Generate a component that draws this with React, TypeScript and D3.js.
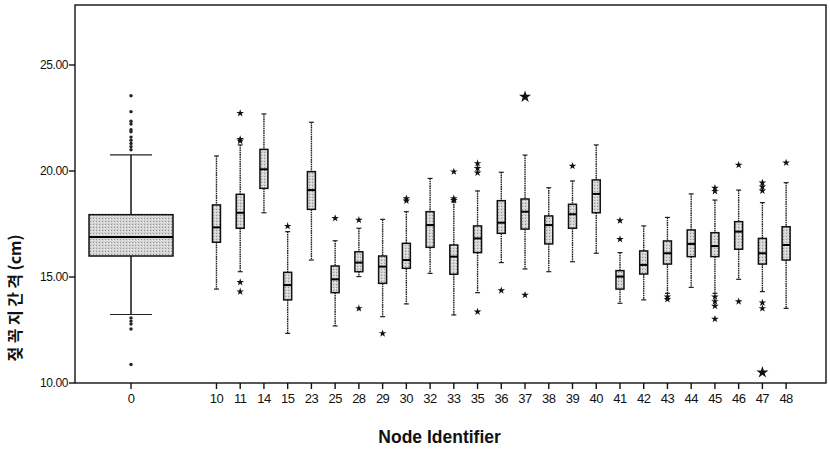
import React, { useEffect, useRef } from 'react';
import * as d3 from 'd3';

// node ids on the x axis
const nodes = ['0', '10', '11', '14', '15', '23', '25', '28', '29', '30', '32', '33', '35', '36', '37', '38', '39', '40', '41', '42', '43', '44', '45', '46', '47', '48'];

// box statistics per node (cm)
const whiskerHigh = [20.76, 20.71, 21.23, 22.69, 17.14, 22.3, 16.71, 17.3, 17.72, 18.08, 19.65, 18.55, 19.06, 19.94, 20.75, 19.21, 19.53, 21.23, 16.15, 17.41, 17.81, 18.92, 18.63, 19.1, 18.51, 19.45];
const q3 = [17.94, 18.4, 18.9, 21.02, 15.22, 19.97, 15.52, 16.19, 15.99, 16.59, 18.08, 16.51, 17.41, 18.6, 18.68, 17.88, 18.43, 19.58, 15.3, 16.23, 16.7, 17.22, 17.09, 17.61, 16.82, 17.37];
const median = [16.89, 17.34, 18.03, 20.08, 14.62, 19.1, 14.89, 15.68, 15.49, 15.8, 17.45, 15.96, 16.82, 17.56, 18.08, 17.45, 17.96, 18.92, 15.02, 15.57, 16.12, 16.56, 16.46, 17.14, 16.12, 16.51];
const q1 = [15.99, 16.64, 17.3, 19.18, 13.92, 18.19, 14.26, 15.25, 14.7, 15.41, 16.4, 15.13, 16.15, 17.06, 17.26, 16.56, 17.3, 18.03, 14.43, 15.14, 15.61, 15.96, 15.96, 16.31, 15.61, 15.8];
const whiskerLow = [13.23, 14.43, 15.25, 18.03, 12.34, 15.8, 12.69, 15.02, 13.13, 13.73, 15.17, 13.21, 14.26, 15.68, 15.38, 15.25, 15.72, 16.12, 13.76, 13.92, 14.23, 14.51, 14.23, 14.89, 14.31, 13.52];

// outliers (node 0 drawn as dots, the rest as stars)
const outliers = [
  [23.55, 22.8, 22.35, 22.22, 21.95, 21.85, 21.6, 21.45, 21.3, 21.15, 21.0, 13.07, 12.92, 12.78, 12.55, 10.87],
  [],
  [22.72, 21.5, 21.42, 14.75, 14.31],
  [],
  [17.4],
  [],
  [17.77],
  [17.69, 13.52],
  [12.34],
  [18.7, 18.6],
  [],
  [19.97, 18.7, 18.62],
  [20.36, 20.13, 19.92, 13.36],
  [14.36],
  [14.15],
  [],
  [20.24],
  [],
  [17.66, 16.78],
  [],
  [14.07, 13.95],
  [],
  [19.2, 19.05, 14.07, 13.85, 13.63, 13.02],
  [20.28, 13.84],
  [19.45, 19.26, 19.07, 13.79, 13.52],
  [20.39],
];
// the two far extremes, drawn larger
const bigStarNodes = ['37', '47'];
const bigStarValues = [23.5, 10.5];

const yTicks = [10, 15, 20, 25];

const W = 830;
const H = 452;
const margin = { top: 5, right: 4, bottom: 69, left: 75 };

function App() {
  const ref = useRef<SVGSVGElement>(null);

  useEffect(() => {
    const svg = d3.select(ref.current);
    svg.selectAll('*').remove();

    const iw = W - margin.left - margin.right;
    const ih = H - margin.top - margin.bottom;

    // node 0 sits in its own wide slot left of the others
    const slot = (i: number) => (i === 0 ? -3.6 : i - 1);
    const x = d3.scaleLinear().domain([-5.96, 25.68]).range([0, iw]);
    const y = d3.scaleLinear().domain([10, 27.83]).range([ih, 0]);

    const defs = svg.append('defs');
    const pat = defs.append('pattern')
      .attr('id', 'stip')
      .attr('patternUnits', 'userSpaceOnUse')
      .attr('width', 3)
      .attr('height', 3);
    pat.append('rect').attr('width', 3).attr('height', 3).attr('fill', '#d3d3d3');
    pat.append('rect').attr('x', 0).attr('y', 0).attr('width', 1).attr('height', 1).attr('fill', '#949494');
    pat.append('rect').attr('x', 2).attr('y', 1).attr('width', 1).attr('height', 1).attr('fill', '#f2f2f2');

    const g = svg.append('g').attr('transform', `translate(${margin.left},${margin.top})`);

    // frame
    g.append('rect')
      .attr('width', iw)
      .attr('height', ih)
      .attr('fill', 'none')
      .attr('stroke', '#111')
      .attr('stroke-width', 1.4);

    // y axis ticks
    yTicks.forEach(t => {
      g.append('line')
        .attr('x1', -6).attr('x2', 0)
        .attr('y1', y(t)).attr('y2', y(t))
        .attr('stroke', '#111').attr('stroke-width', 1.4);
      g.append('text')
        .attr('x', -7)
        .attr('y', y(t) + 4)
        .attr('text-anchor', 'end')
        .style('font-family', 'Liberation Sans, Arial, sans-serif')
        .style('font-size', '12px')
        .style('letter-spacing', '-0.4px')
        .attr('fill', '#111')
        .text(t.toFixed(2));
    });

    // x axis ticks
    nodes.forEach((n, i) => {
      const cx = x(slot(i));
      g.append('line')
        .attr('x1', cx).attr('x2', cx)
        .attr('y1', ih).attr('y2', ih + 6)
        .attr('stroke', '#111').attr('stroke-width', 1.4);
      g.append('text')
        .attr('x', cx)
        .attr('y', ih + 20)
        .attr('text-anchor', 'middle')
        .style('font-family', 'Liberation Sans, Arial, sans-serif')
        .style('font-size', '13px')
        .style('letter-spacing', '-0.5px')
        .attr('fill', '#111')
        .text(n);
    });

    // boxes
    nodes.forEach((n, i) => {
      const cx = x(slot(i));
      const wide = i === 0;
      const bw = wide ? 84 : 8;
      const cw = wide ? 42 : 5;
      const box = g.append('g');

      box.append('line')
        .attr('x1', cx).attr('x2', cx)
        .attr('y1', y(whiskerHigh[i])).attr('y2', y(q3[i]))
        .attr('stroke', '#222').attr('stroke-width', wide ? 1.6 : 1.4)
        .attr('stroke-dasharray', wide ? null : '1.6,0.7');
      box.append('line')
        .attr('x1', cx).attr('x2', cx)
        .attr('y1', y(q1[i])).attr('y2', y(whiskerLow[i]))
        .attr('stroke', '#222').attr('stroke-width', wide ? 1.6 : 1.4)
        .attr('stroke-dasharray', wide ? null : '1.6,0.7');
      [whiskerHigh[i], whiskerLow[i]].forEach(v => {
        box.append('line')
          .attr('x1', cx - cw / 2).attr('x2', cx + cw / 2)
          .attr('y1', y(v)).attr('y2', y(v))
          .attr('stroke', '#222').attr('stroke-width', 1.2);
      });
      box.append('rect')
        .attr('x', cx - bw / 2)
        .attr('y', y(q3[i]))
        .attr('width', bw)
        .attr('height', y(q1[i]) - y(q3[i]))
        .attr('fill', 'url(#stip)')
        .attr('stroke', '#111')
        .attr('stroke-width', 1.5);
      box.append('line')
        .attr('x1', cx - bw / 2).attr('x2', cx + bw / 2)
        .attr('y1', y(median[i])).attr('y2', y(median[i]))
        .attr('stroke', '#000').attr('stroke-width', 2);

      outliers[i].forEach(v => {
        if (wide) {
          box.append('circle')
            .attr('cx', cx).attr('cy', y(v)).attr('r', 1.7)
            .attr('fill', '#222');
        } else {
          box.append('path')
            .attr('d', d3.symbol(d3.symbolStar, 18)())
            .attr('transform', `translate(${cx},${y(v)})`)
            .attr('fill', '#111');
        }
      });
    });

    bigStarNodes.forEach((n, k) => {
      const cx = x(slot(nodes.indexOf(n)));
      g.append('path')
        .attr('d', d3.symbol(d3.symbolStar, 45)())
        .attr('transform', `translate(${cx},${y(bigStarValues[k])})`)
        .attr('fill', '#111');
    });

    // axis titles
    svg.append('text')
      .attr('x', margin.left + x(9.4))
      .attr('y', 443)
      .attr('text-anchor', 'middle')
      .style('font-family', 'Liberation Sans, Arial, sans-serif')
      .style('font-size', '17.5px')
      .style('font-weight', 'bold')
      .attr('fill', '#111')
      .text('Node Identifier');

    const yl = svg.append('text')
      .attr('transform', 'translate(21,298) rotate(-90)')
      .attr('text-anchor', 'middle')
      .style('font-family', '"Noto Sans CJK KR", sans-serif')
      .style('font-size', '16px')
      .style('font-weight', 'bold')
      .attr('fill', '#111');
    yl.append('tspan').style('letter-spacing', '3.5px').text('젖꼭지간격');
    yl.append('tspan').text('(cm)');
  }, []);

  return (
    <svg
      ref={ref}
      width={W}
      height={H}
      style={{ position: 'absolute', left: 0, top: 0, background: '#fff' }}
    />
  );
}

export default App;
